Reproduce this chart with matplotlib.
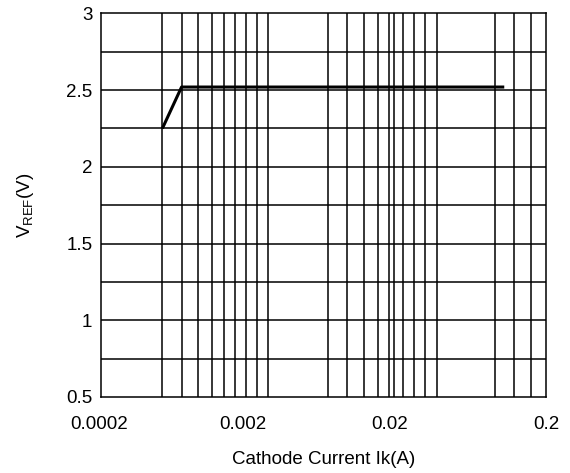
import matplotlib
matplotlib.use("Agg")
import matplotlib.pyplot as plt
from matplotlib.transforms import ScaledTranslation

# ---- data ----
current_a = [0.00052, 0.0007, 0.104]
vref_v = [2.25, 2.52, 2.52]

x_ticks = [0.0002, 0.002, 0.02, 0.2]
x_tick_labels = ["0.0002", "0.002", "0.02", "0.2"]
y_ticks = [0.5, 1, 1.5, 2, 2.5, 3]
y_tick_labels = ["0.5", "1", "1.5", "2", "2.5", "3"]

# vertical grid lines of the original sheet (not a regular log grid)
x_grid = [0.000517, 0.000701, 0.000902, 0.001126, 0.001344, 0.001593,
          0.001897, 0.00225, 0.00268,
          0.00672, 0.00911, 0.0118, 0.01465, 0.01737, 0.01897, 0.02158,
          0.0257, 0.0305, 0.0364,
          0.0897, 0.1216, 0.157]
y_grid = [0.75, 1.0, 1.25, 1.5, 1.75, 2.0, 2.25, 2.5, 2.75]

plt.rcParams["font.family"] = ["Liberation Sans", "DejaVu Sans"]
plt.rcParams["mathtext.fontset"] = "custom"
plt.rcParams["mathtext.rm"] = "Liberation Sans"

FS = 13.5

fig = plt.figure(figsize=(5.7, 4.73), dpi=100)
ax = fig.add_axes([0.1767, 0.1607, 0.782, 0.811])

ax.set_xscale("log")
ax.set_xlim(0.0002, 0.2)
ax.set_ylim(0.5, 3)

for gx in x_grid:
    ax.axvline(gx, color="black", linewidth=1.1, zorder=1)
for gy in y_grid:
    ax.axhline(gy, color="black", linewidth=1.1, zorder=1)

ax.plot(current_a, vref_v, color="black", linewidth=2.2, zorder=3,
        solid_capstyle="butt")

ax.set_xticks(x_ticks)
ax.set_xticklabels(x_tick_labels)
ax.xaxis.set_minor_locator(matplotlib.ticker.NullLocator())
ax.set_yticks(y_ticks)
ax.set_yticklabels(y_tick_labels)
ax.tick_params(axis="both", length=0, labelsize=FS)
ax.tick_params(axis="x", pad=14)
ax.tick_params(axis="y", pad=6)

# the original sheet has its x labels slightly left of the decade lines
for lbl, dx in zip(ax.get_xticklabels(), [-2, -6, -8, 0]):
    lbl.set_transform(lbl.get_transform() + ScaledTranslation(dx / 100, 0, fig.dpi_scale_trans))

for sp in ax.spines.values():
    sp.set_linewidth(1.1)
    sp.set_color("black")

ax.set_xlabel("Cathode Current Ik(A)", fontsize=FS, labelpad=12.5)
ax.set_ylabel(r"V$_{\mathrm{REF}}$(V)", fontsize=FS, labelpad=22)

fig.savefig("out.png", dpi=100)
